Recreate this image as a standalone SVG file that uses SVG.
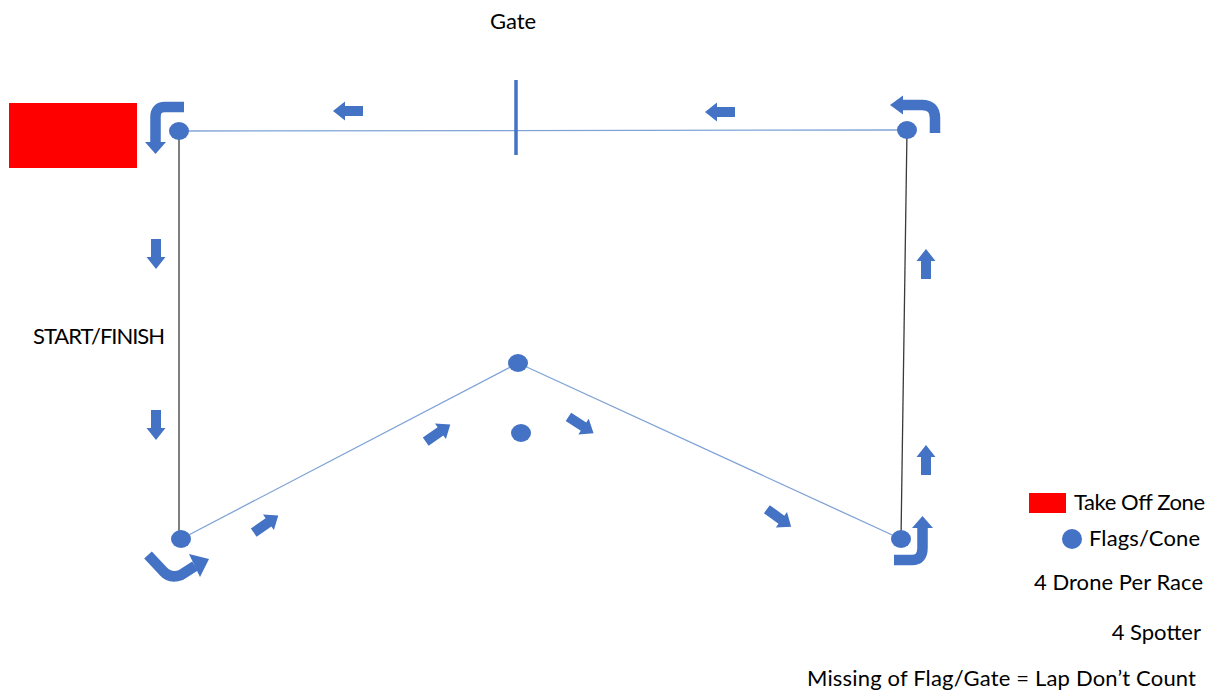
<svg xmlns="http://www.w3.org/2000/svg" width="1211" height="691" viewBox="0 0 1211 691">
<style>
.flag{fill:#4472C4}
.txt{font-family:Lato,"Open Sans","Liberation Sans",sans-serif;font-size:22px;fill:#000}
.band{fill:none;stroke:#4472C4;stroke-width:10.5}
.head{fill:#4472C4}
.ln-blue{stroke:#7FA3D6;stroke-width:1.3;fill:none}
.ln-dark{stroke:#3A3A3A;stroke-width:1.3;fill:none}
</style>
<defs>
<polygon id="arr" points="-15,-5 3,-5 3,-9.5 15,0 3,9.5 3,5 -15,5" fill="#4472C4"/>
</defs>
<rect width="1211" height="691" fill="#fff"/>

<g id="connectors">
<line class="ln-blue" x1="179" y1="131" x2="907" y2="130"/>
<line class="ln-dark" x1="179" y1="131" x2="179" y2="539"/>
<line class="ln-dark" x1="907" y1="130" x2="901" y2="539"/>
<line class="ln-blue" x1="181" y1="539" x2="518" y2="363"/>
<line class="ln-blue" x1="518" y1="363" x2="901" y2="539"/>
</g>

<g id="gate">
<line x1="516" y1="80" x2="516" y2="155" stroke="#4472C4" stroke-width="3.5"/>
<text class="txt" x="490" y="29" textLength="46">Gate</text>
</g>

<g id="takeoff-zone"><rect x="9" y="103" width="128" height="65" fill="#FF0000"/></g>

<g id="flag-tl"><ellipse class="flag" cx="179" cy="131" rx="10" ry="9"/></g>
<g id="flag-tr"><ellipse class="flag" cx="907" cy="130" rx="10" ry="9"/></g>
<g id="flag-mid-top"><ellipse class="flag" cx="518" cy="363" rx="10" ry="9"/></g>
<g id="flag-mid-low"><ellipse class="flag" cx="521" cy="433" rx="10" ry="9"/></g>
<g id="flag-bl"><ellipse class="flag" cx="181" cy="539" rx="10" ry="9"/></g>
<g id="flag-br"><ellipse class="flag" cx="901" cy="539" rx="10" ry="9"/></g>

<g id="turn-tl">
<path class="band" d="M184,107 L165,107 Q155.5,107 155.5,117 L155.5,143"/>
<polygon class="head" points="145,142 166,142 155.5,154"/>
</g>
<g id="turn-tr">
<path class="band" d="M902,105 L922,105 Q935,105 935,118 L935,133"/>
<polygon class="head" points="903,95.5 903,114.5 890,105"/>
</g>
<g id="turn-bl">
<path class="band" d="M148,555 L163,571 Q170,579 181,575 L195,566"/>
<polygon class="head" points="189,554 200,577 209,559"/>
</g>
<g id="turn-br">
<path class="band" d="M894,560 L912,560 Q922.5,560 922.5,548 L922.5,527"/>
<polygon class="head" points="912,528 933,528 922.5,516"/>
</g>

<g id="direction-arrows">
<use href="#arr" transform="translate(348,111) rotate(180)"/>
<use href="#arr" transform="translate(720,112) rotate(180)"/>
<use href="#arr" transform="translate(156,254) rotate(90)"/>
<use href="#arr" transform="translate(156,425) rotate(90)"/>
<use href="#arr" transform="translate(926,264) rotate(-90)"/>
<use href="#arr" transform="translate(926,460) rotate(-90)"/>
<use href="#arr" transform="translate(266,524) rotate(-35)"/>
<use href="#arr" transform="translate(438,433) rotate(-35)"/>
<use href="#arr" transform="translate(581,425) rotate(33)"/>
<use href="#arr" transform="translate(779,518) rotate(36)"/>
</g>

<g id="start-finish"><text class="txt" x="33" y="344" textLength="132">START/FINISH</text></g>

<g id="legend">
<rect x="1029" y="493" width="37" height="20" fill="#FF0000"/>
<text class="txt" x="1074" y="510" textLength="131">Take Off Zone</text>
<circle class="flag" cx="1072" cy="539" r="10"/>
<text class="txt" x="1089" y="546" textLength="111">Flags/Cone</text>
<text class="txt" x="1034" y="590" textLength="169">4 Drone Per Race</text>
<text class="txt" x="1201" y="640" text-anchor="end">4 Spotter</text>
<text class="txt" x="807" y="686" textLength="389">Missing of Flag/Gate = Lap Don’t Count</text>
</g>
</svg>
